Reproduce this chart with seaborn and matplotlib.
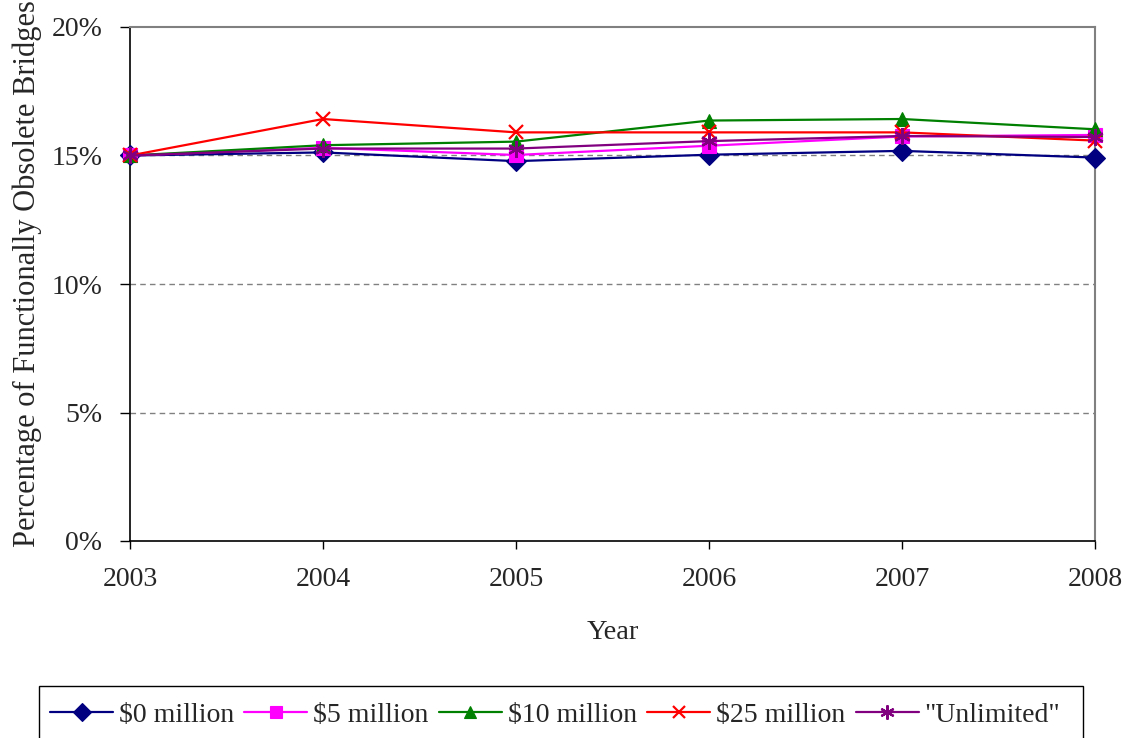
import matplotlib
matplotlib.use("Agg")
import matplotlib.pyplot as plt
import matplotlib.ticker as mticker
from matplotlib.patches import Rectangle
import seaborn as sns
import pandas as pd

years = [2003, 2004, 2005, 2006, 2007, 2008]
series_names = ["$0 million", "$5 million", "$10 million", "$25 million", '"Unlimited"']
pct_0m = [15.0, 15.12, 14.78, 15.03, 15.18, 14.92]
pct_5m = [15.0, 15.30, 15.02, 15.38, 15.74, 15.80]
pct_10m = [15.0, 15.40, 15.54, 16.36, 16.42, 16.02]
pct_25m = [15.0, 16.42, 15.90, 15.90, 15.90, 15.58]
pct_unlimited = [15.0, 15.27, 15.27, 15.56, 15.76, 15.72]

colors = ["#000080", "#FF00FF", "#008000", "#FF0000", "#800080"]
markers = ["D", "s", "^", "x", (6, 2, 0)]
marker_sizes = [10.5, 9.5, 10.5, 10, 12]

sns.set_style("white")
plt.rcParams["font.family"] = ["Liberation Serif", "DejaVu Serif"]
plt.rcParams["mathtext.default"] = "regular"

df = pd.DataFrame({
    "Year": years * 5,
    "Percent": pct_0m + pct_5m + pct_10m + pct_25m + pct_unlimited,
    "Series": sum([[n] * len(years) for n in series_names], []),
})

fig = plt.figure(figsize=(11.29, 7.38), dpi=100)
ax = fig.add_axes([130 / 1129, 1 - 541 / 738, 965 / 1129, 514 / 738])

for name, c, m, ms in zip(series_names, colors, markers, marker_sizes):
    sub = df[df["Series"] == name]
    thin_marker = (m == "x") or isinstance(m, tuple)
    sns.lineplot(data=sub, x="Year", y="Percent", ax=ax, color=c, marker=m,
                 markersize=ms, markeredgecolor=c, markerfacecolor=c,
                 markeredgewidth=1.6 if thin_marker else 0.8,
                 linewidth=1.6, label=name.replace("$", r"\$"),
                 clip_on=False, zorder=3)

ax.set_xlim(2003, 2008)
ax.set_ylim(0, 20)
ax.set_xticks(years)
ax.set_yticks([0, 5, 10, 15, 20])
ax.yaxis.set_major_formatter(mticker.FuncFormatter(lambda v, p: f"{v:.0f}%"))

for y in [5, 10, 15]:
    ax.axhline(y, color="#808080", linestyle=(0, (4, 3)), linewidth=1.0, zorder=1)

for side in ["left", "bottom"]:
    ax.spines[side].set_color("black")
    ax.spines[side].set_linewidth(1.2)
for side in ["top", "right"]:
    ax.spines[side].set_color("#808080")
    ax.spines[side].set_linewidth(1.5)

ax.tick_params(axis="y", direction="out", length=7, width=1, color="black",
               labelsize=20, pad=13, left=True)
ax.tick_params(axis="x", direction="out", length=6, width=1, color="black",
               labelsize=20, pad=13, bottom=True)

ax.set_xlabel("Year", fontsize=20.5)
ax.xaxis.set_label_coords(0.5, (541 - 620) / 514)
ax.set_ylabel("Percentage of Functionally Obsolete Bridges", fontsize=22)
ax.yaxis.set_label_coords((42 - 130) / 965, (541 - 274) / 514)

handles, labels = ax.get_legend_handles_labels()
if ax.legend_:
    ax.legend_.remove()
leg = fig.legend(handles, labels, loc="center left",
                 bbox_to_anchor=(50 / 1129, 1 - 715 / 738), ncol=5,
                 frameon=False, fontsize=20,
                 handlelength=2.27, handletextpad=0.2, columnspacing=0.38,
                 borderpad=0, borderaxespad=0, numpoints=1, markerscale=0.85)

# legend frame, running past the lower edge of the figure
fig.patches.append(Rectangle((39 / 1129, 1 - 745 / 738), (1083 - 39) / 1129, 59 / 738,
                             transform=fig.transFigure, fill=False,
                             edgecolor="black", linewidth=1.0))

fig.savefig("out.png", dpi=100)
